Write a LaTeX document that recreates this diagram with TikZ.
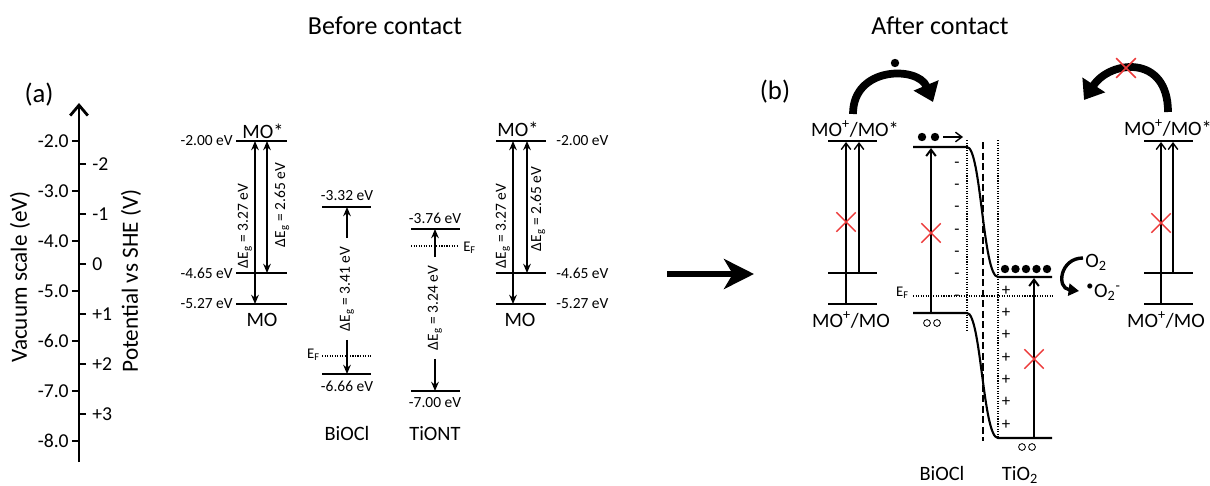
\documentclass[tikz,border=0pt]{standalone}
\usepackage{fontspec}
\setmainfont{Carlito}
\usetikzlibrary{arrows.meta,positioning,shapes.misc}
\definecolor{crossred}{RGB}{236,58,58}

\begin{document}
\begin{tikzpicture}[x=0.025cm,y=-0.025cm,
  >=Stealth,
  title/.style={font=\fontsize{18.5}{22}\selectfont},
  panel/.style={font=\fontsize{19}{22}\selectfont},
  axlabel/.style={font=\fontsize{16.5}{20}\selectfont,rotate=90},
  ticklabel/.style={font=\fontsize{14}{16}\selectfont,inner sep=0pt},
  evlabel/.style={font=\fontsize{11}{13}\selectfont,inner sep=0pt},
  molabel/.style={font=\fontsize{14.5}{17}\selectfont,inner sep=0pt},
  gaplabel/.style={font=\fontsize{11}{13}\selectfont,rotate=90,inner sep=0pt},
  eflabel/.style={font=\fontsize{10.5}{12}\selectfont,inner sep=0pt},
  charge/.style={font=\fontsize{12}{14}\selectfont,inner sep=0pt},
  level/.style={draw=black,line width=1.6pt},
  band/.style={draw=black,line width=1.5pt},
  fermi/.style={draw=black,line width=.8pt,densely dotted},
  gap/.style={draw=black,line width=1.2pt,
    {Stealth[length=2.3mm,width=1.9mm]}-{Stealth[length=2.3mm,width=1.9mm]}},
  halfgap/.style={draw=black,line width=1.2pt,-{Stealth[length=2.3mm,width=1.9mm]}},
  excite/.style={draw=black,line width=1pt,-{Straight Barb[length=1.6mm,width=2.4mm]}},
  bigbend/.style={draw=black,line width=5.5pt,-{Triangle[length=4.5mm,width=6.5mm]}},
  electron/.style={circle,fill=black,inner sep=0pt,minimum size=2.1mm},
  hole/.style={circle,draw=black,line width=.6pt,inner sep=0pt,minimum size=1.7mm},
  blocked/.style={cross out,draw=crossred,line width=1pt,inner sep=0pt,minimum size=4.5mm}]

\useasboundingbox (0,0) rectangle (1210,486);
\clip (0,0) rectangle (1210,486);

% titles
\node[title] (before) at (385,26) {Before contact};
\node[title] (after) at (940,26) {After contact};
\node[panel] (tagA) at (39,95) {(a)};
\node[panel] (tagB) at (775,92) {(b)};

% energy axis
\coordinate (axisbot) at (79,462);
\coordinate (axistop) at (79,103);
\draw[line width=2pt,-{Straight Barb[length=2.6mm,width=4.4mm]}] (axisbot) -- (axistop);
\foreach \y/\t in {141/-2.0,191/-3.0,241/-4.0,291/-5.0,341/-6.0,391/-7.0,441/-8.0}{
  \draw[line width=1.6pt] (72,\y) -- (79,\y);
  \node[ticklabel,anchor=east] (vac\y) at (69,\y) {\t};}
\foreach \y/\t in {164/-2,214/-1,264/0,314/+1,364/+2,414/+3}{
  \draw[line width=1.6pt] (79,\y) -- (86,\y);
  \node[ticklabel,anchor=west] (she\y) at (92,\y) {\t};}
\node[axlabel] (vaclabel) at (20,277) {Vacuum scale (eV)};
\node[axlabel] (shelabel) at (131,281) {Potential vs SHE (V)};

% MO, left copy
\draw[level] (236,141) -- (287,141);
\draw[level] (236,273) -- (287,273);
\draw[level] (236,304) -- (287,304);
\coordinate (moLstar1) at (255,141);
\coordinate (moLhomo) at (255,304);
\coordinate (moLstar2) at (267,141);
\coordinate (moLmid) at (267,273);
\draw[gap] (moLstar1) -- (moLhomo);
\draw[gap] (moLstar2) -- (moLmid);
\node[evlabel,anchor=east] (moLe1) at (233,141) {-2.00 eV};
\node[evlabel,anchor=east] (moLe2) at (233,273) {-4.65 eV};
\node[evlabel,anchor=east] (moLe3) at (233,304) {-5.27 eV};
\node[molabel] (moLtop) at (263,131) {MO*};
\node[molabel] (moLbot) at (262,320) {MO};
\node[gaplabel] (moLg1) at (245,226) {ΔE\textsubscript{g} = 3.27 eV};
\node[gaplabel] (moLg2) at (282,205) {ΔE\textsubscript{g} = 2.65 eV};

% BiOCl
\draw[level] (322,207) -- (371,207);
\draw[level] (322,374) -- (371,374);
\draw[fermi] (322,356) -- (371,356);
\coordinate (biCB) at (347,207);
\coordinate (biVB) at (347,374);
\node[gaplabel,inner xsep=6pt] (biGap) at (347,289) {ΔE\textsubscript{g} = 3.41 eV};
\draw[halfgap] (biGap) -- (biCB);
\draw[halfgap] (biGap) -- (biVB);
\node[eflabel,anchor=east] (biEF) at (320,355) {E\textsubscript{F}};
\node[evlabel] (biE1) at (347,196) {-3.32 eV};
\node[evlabel] (biE2) at (347,386) {-6.66 eV};
\node[molabel,anchor=base] (biName) at (347,440) {BiOCl};

% TiONT
\draw[level] (411,229) -- (460,229);
\draw[level] (411,391) -- (460,391);
\draw[fermi] (411,246) -- (458,246);
\coordinate (tiCB) at (435,229);
\coordinate (tiVB) at (435,391);
\node[gaplabel,inner xsep=6pt] (tiGap) at (435,308) {ΔE\textsubscript{g} = 3.24 eV};
\draw[halfgap] (tiGap) -- (tiCB);
\draw[halfgap] (tiGap) -- (tiVB);
\node[eflabel,anchor=west] (tiEF) at (463,248) {E\textsubscript{F}};
\node[evlabel] (tiE1) at (435,218) {-3.76 eV};
\node[evlabel] (tiE2) at (435,403) {-7.00 eV};
\node[molabel,anchor=base] (tiName) at (435,440) {TiONT};

% MO, right copy
\draw[level] (496,141) -- (546,141);
\draw[level] (496,273) -- (546,273);
\draw[level] (496,304) -- (546,304);
\coordinate (moRstar1) at (513,141);
\coordinate (moRhomo) at (513,304);
\coordinate (moRstar2) at (527,141);
\coordinate (moRmid) at (527,273);
\draw[gap] (moRstar1) -- (moRhomo);
\draw[gap] (moRstar2) -- (moRmid);
\node[evlabel,anchor=west] (moRe1) at (556,141) {-2.00 eV};
\node[evlabel,anchor=west] (moRe2) at (556,273) {-4.65 eV};
\node[evlabel,anchor=west] (moRe3) at (556,304) {-5.27 eV};
\node[molabel] (moRtop) at (518,129) {MO*};
\node[molabel] (moRbot) at (520,320) {MO};
\node[gaplabel] (moRg1) at (503,226) {ΔE\textsubscript{g} = 3.27 eV};
\node[gaplabel] (moRg2) at (538,209) {ΔE\textsubscript{g} = 2.65 eV};

% contact arrow
\coordinate (contactS) at (667,274);
\coordinate (contactE) at (754,274);
\draw[line width=4.5pt,-{Stealth[length=7.5mm,width=7.5mm,inset=2.2mm]}] (contactS) -- (contactE);

% MO after contact, left
\draw[level] (828,141) -- (877,141);
\draw[level] (828,273) -- (877,273);
\draw[level] (828,304) -- (877,304);
\coordinate (moBhomo) at (846,304);
\coordinate (moBstar1) at (846,142);
\coordinate (moBmid) at (859,273);
\coordinate (moBstar2) at (859,142);
\draw[excite] (moBhomo) -- (moBstar1);
\draw[excite] (moBmid) -- (moBstar2);
\node[blocked] (moBx) at (846,222) {};
\node[molabel] (moBtop) at (855,129) {MO\textsuperscript{+}/MO*};
\node[molabel] (moBbot) at (851,320) {MO\textsuperscript{+}/MO};

% injection into BiOCl
\coordinate (injS) at (853,114);
\coordinate (injE) at (933,102);
\draw[bigbend] (injS) .. controls (853,66) and (918,66) .. (injE);
\node[electron] (injDot) at (895,63) {};

% BiOCl / TiO2 junction
\draw[band] (913,147) -- (967,147) .. controls (981,147) and (983,277) .. (998,277) -- (1052,277);
\draw[band] (913,313) -- (967,313) .. controls (981,313) and (983,438) .. (998,438) -- (1052,438);
\draw[fermi] (913,296) -- (1053,296);
\draw[fermi] (967,140) -- (967,330);
\draw[line width=1.2pt,dash pattern=on 5pt off 2.5pt] (983,142) -- (983,441);
\draw[fermi] (998,140) -- (998,438);
\foreach \y in {165,187,209,232,254,276,298}
  \node[charge] (minus\y) at (957,\y) {-};
\foreach \y in {291,313,335,358,380,402,425}
  \node[charge] (plus\y) at (1006,\y) {+};
\node[eflabel,anchor=east] (efB) at (909,293) {E\textsubscript{F}};

\node[electron] (eBi1) at (922,137) {};
\node[electron] (eBi2) at (935,137) {};
\coordinate (flowS) at (943,137);
\coordinate (flowE) at (963,137);
\draw[excite] (flowS) -- (flowE);
\coordinate (biBvb) at (931,313);
\coordinate (biBcb) at (931,148);
\draw[excite,line width=1.4pt] (biBvb) -- (biBcb);
\node[blocked] (biBx) at (931,233) {};
\node[hole] (hBi1) at (927,323) {};
\node[hole] (hBi2) at (937,323) {};

\foreach \x [count=\i] in {1005,1015.5,1026,1036.5,1047}
  \node[electron] (eTi\i) at (\x,269) {};
\coordinate (tiBvb) at (1034,438);
\coordinate (tiBcb) at (1034,278);
\draw[excite,line width=1.4pt] (tiBvb) -- (tiBcb);
\node[blocked] (tiBx) at (1034,359) {};
\node[hole] (hTi1) at (1022,447) {};
\node[hole] (hTi2) at (1032,447) {};
\node[molabel,anchor=base] (biBname) at (942,480) {BiOCl};
\node[molabel,anchor=base] (tiBname) at (1020,480) {TiO\textsubscript{2}};

% oxygen reduction
\coordinate (o2S) at (1083,258);
\coordinate (o2E) at (1079,291);
\draw[line width=2.4pt,-{Triangle[length=2.6mm,width=3mm]}] (o2S) .. controls (1060,258) and (1056,288) .. (o2E);
\node[molabel] (o2) at (1096,262) {O\textsubscript{2}};
\node[molabel,anchor=west] (superox) at (1086,292) {\textsuperscript{•}O\textsubscript{2}\textsuperscript{-}};

% MO after contact, right
\draw[level] (1144,141) -- (1193,141);
\draw[level] (1144,273) -- (1193,273);
\draw[level] (1144,304) -- (1193,304);
\coordinate (moCstar1) at (1161,142);
\coordinate (moChomo) at (1161,304);
\coordinate (moCstar2) at (1173,142);
\coordinate (moCmid) at (1173,273);
\draw[excite] (moChomo) -- (moCstar1);
\draw[excite] (moCmid) -- (moCstar2);
\node[blocked] (moCx) at (1161,223) {};
\node[molabel] (moCtop) at (1168,128) {MO\textsuperscript{+}/MO*};
\node[molabel] (moCbot) at (1166,320) {MO\textsuperscript{+}/MO};

% blocked back transfer
\coordinate (backS) at (1168,112);
\coordinate (backE) at (1084,100);
\draw[bigbend] (backS) .. controls (1168,54) and (1110,60) .. (backE);
\node[blocked,line width=1.2pt] (backX) at (1126,68) {};
\end{tikzpicture}
\end{document}
